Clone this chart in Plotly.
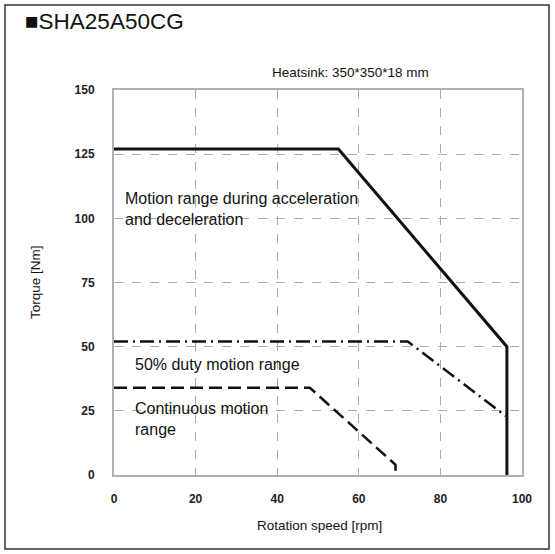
import plotly.graph_objects as go

# Data (rpm, Nm)
accel_speed = [0, 55, 96.3, 96.3]
accel_torque = [127, 127, 50, 0]
duty50_speed = [0, 72, 96]
duty50_torque = [52, 52, 23]
cont_speed = [0, 48, 69, 69]
cont_torque = [34, 34, 4, 0]

x_ticks = [0, 20, 40, 60, 80, 100]
y_ticks = [0, 25, 50, 75, 100, 125, 150]

W, H = 555, 554
PL, PT, PR, PB = 114, 90, 522, 475  # plot box in screen px
L, T = PL, PT
pw, ph = PR - PL, PB - PT
R = W - L - pw
B = H - T - ph

def px_x(p):
    return (p - PL) / pw

def px_y(p):
    return (PB - p) / ph

fig = go.Figure()
fig.add_trace(go.Scatter(x=accel_speed, y=accel_torque, mode="lines",
                         line=dict(color="#111", width=3), showlegend=False))
fig.add_trace(go.Scatter(x=duty50_speed, y=duty50_torque, mode="lines",
                         line=dict(color="#111", width=2.5, dash="14px,5px,2px,5px"), showlegend=False))
fig.add_trace(go.Scatter(x=cont_speed, y=cont_torque, mode="lines",
                         line=dict(color="#111", width=2.5, dash="13px,6px"), showlegend=False))

tickfont = dict(family="Liberation Sans, Arial", size=12, color="#222", weight="bold")
fig.update_xaxes(range=[0, 100], tickvals=x_ticks, ticktext=[str(v) for v in x_ticks],
                 showgrid=True, gridcolor="#aaa", griddash="dash", gridwidth=1,
                 showline=True, linecolor="#b0b0b0", linewidth=2, mirror=True,
                 zeroline=False, ticks="", tickfont=tickfont, ticklabelstandoff=12)
fig.update_yaxes(range=[0, 150], tickvals=y_ticks, ticktext=[str(v) for v in y_ticks],
                 showgrid=True, gridcolor="#aaa", griddash="dash", gridwidth=1,
                 showline=True, linecolor="#b0b0b0", linewidth=2, mirror=True,
                 zeroline=False, ticks="", tickfont=tickfont, ticklabelstandoff=15)

txt = dict(family="Liberation Sans, Arial", size=16, color="#111")
ann = [
    dict(x=px_x(23), y=px_y(22), xref="paper", yref="paper", text="■SHA25A50CG",
         showarrow=False, xanchor="left", yanchor="middle",
         font=dict(family="Liberation Sans, Arial", size=22.5, color="#111")),
    dict(x=px_x(350), y=px_y(72), xref="paper", yref="paper", text="Heatsink: 350*350*18 mm",
         showarrow=False, xanchor="center", yanchor="middle",
         font=dict(family="Liberation Sans, Arial", size=13.5, color="#111")),
    dict(x=px_x(123), y=px_y(209), xref="paper", yref="paper",
         text="Motion range during acceleration<br>and deceleration",
         showarrow=False, xanchor="left", yanchor="middle", align="left", font=txt),
    dict(x=px_x(133), y=px_y(364), xref="paper", yref="paper",
         text="50% duty motion range",
         showarrow=False, xanchor="left", yanchor="middle", align="left", font=txt),
    dict(x=px_x(133), y=px_y(419), xref="paper", yref="paper",
         text="Continuous motion<br>range",
         showarrow=False, xanchor="left", yanchor="middle", align="left", font=txt),
    dict(x=px_x(35), y=px_y(282), xref="paper", yref="paper", text="Torque [Nm]",
         showarrow=False, textangle=-90, xanchor="center", yanchor="middle",
         font=dict(family="Liberation Sans, Arial", size=13.5, color="#111")),
    dict(x=px_x(319), y=px_y(525), xref="paper", yref="paper", text="Rotation speed [rpm]",
         showarrow=False, xanchor="center", yanchor="middle",
         font=dict(family="Liberation Sans, Arial", size=13.5, color="#111")),
]

fig.update_layout(
    width=W, height=H,
    margin=dict(l=L, r=R, t=T, b=B),
    paper_bgcolor="white", plot_bgcolor="white",
    annotations=ann,
    shapes=[dict(type="rect", xref="paper", yref="paper",
                 x0=px_x(5), x1=px_x(549), y0=px_y(5), y1=px_y(549),
                 line=dict(color="#333", width=1.5), layer="below")],
)

fig.write_html("out.html",
               config={"displayModeBar": False},
               post_script="document.body.style.margin='0';document.body.style.overflow='hidden';")
